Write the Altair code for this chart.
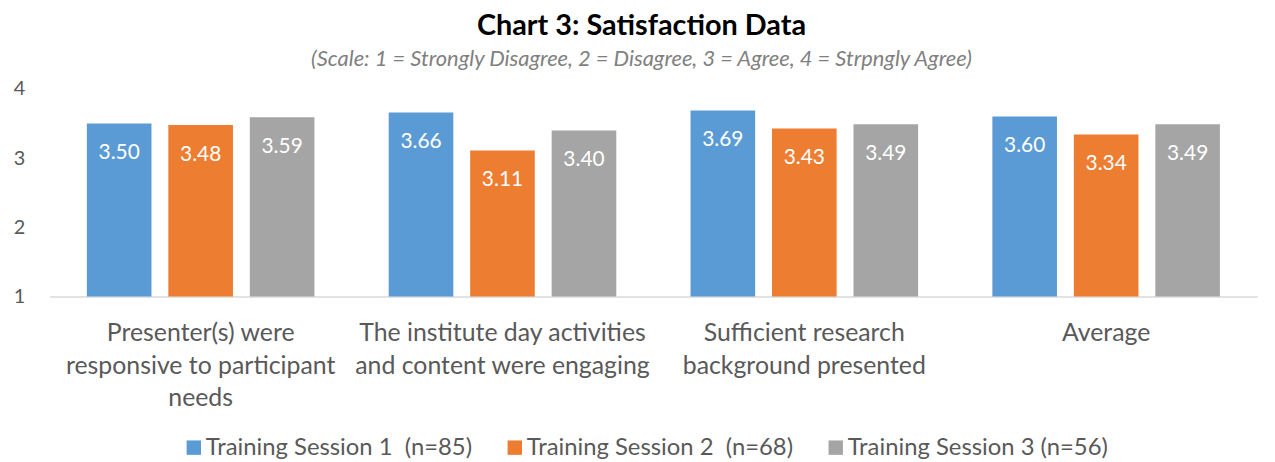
import altair as alt
import pandas as pd

categories = [
    "Presenter(s) were|responsive to participant|needs",
    "The institute day activities|and content were engaging",
    "Sufficient research|background presented",
    "Average",
]
sessions = [
    "Training Session 1\u00a0\u00a0(n=85)",
    "Training Session 2\u00a0\u00a0(n=68)",
    "Training Session 3 (n=56)",
]
session1 = [3.50, 3.66, 3.69, 3.60]
session2 = [3.48, 3.11, 3.43, 3.34]
session3 = [3.59, 3.40, 3.49, 3.49]
colors = ["#5B9BD5", "#ED7D31", "#A5A5A5"]

rows = []
for s, vals in zip(sessions, [session1, session2, session3]):
    for c, v in zip(categories, vals):
        rows.append({"category": c, "session": s, "value": v, "base": 1})
df = pd.DataFrame(rows)

FONT = "Lato"
TEXT = "#595959"

x = alt.X(
    "category:N",
    sort=categories,
    title=None,
    scale=alt.Scale(paddingInner=0.246, paddingOuter=0.123),
    axis=alt.Axis(
        labelExpr="split(datum.label, '|')",
        labelAngle=0,
        labelFontSize=25,
        labelLineHeight=33,
        labelColor=TEXT,
        labelFont=FONT,
        labelPadding=24,
        ticks=False,
        domainColor="#D9D9D9",
        domainWidth=1.5,
        labelLimit=400,
    ),
)
xoff = alt.XOffset(
    "session:N",
    sort=sessions,
    scale=alt.Scale(paddingInner=0.207, paddingOuter=0),
)

bars = alt.Chart(df).mark_bar().encode(
    x=x,
    xOffset=xoff,
    y=alt.Y(
        "value:Q",
        title=None,
        scale=alt.Scale(domain=[1, 4], zero=False, nice=False),
        axis=alt.Axis(
            values=[1, 2, 3, 4],
            format="d",
            grid=False,
            ticks=False,
            domain=False,
            labelFontSize=20,
            labelColor=TEXT,
            labelFont=FONT,
            labelPadding=25,
        ),
    ),
    y2="base:Q",
    color=alt.Color(
        "session:N",
        sort=sessions,
        scale=alt.Scale(domain=sessions, range=colors),
        legend=alt.Legend(
            title=None,
            orient="none",
            legendX=133,
            legendY=349,
            direction="horizontal",
            symbolType="square",
            symbolSize=210,
            symbolStrokeWidth=0,
            labelFontSize=24,
            labelColor=TEXT,
            labelFont=FONT,
            labelOffset=0,
            columnPadding=30,
            labelLimit=400,
        ),
    ),
)

labels = alt.Chart(df).mark_text(
    color="white", fontSize=21, font=FONT, baseline="middle", dy=30
).encode(
    x=alt.X("category:N", sort=categories),
    xOffset=xoff,
    y="value:Q",
    text=alt.Text("value:Q", format=".2f"),
)

chart = (
    alt.layer(bars, labels)
    .properties(
        width=1215,
        height=209,
        autosize="none",
        background="white",
        padding={"left": 42, "top": 80, "right": 10, "bottom": 165},
        title=alt.Title(
            text="Chart 3: Satisfaction Data",
            subtitle="(Scale: 1 = Strongly Disagree, 2 = Disagree, 3 = Agree, 4 = Strpngly Agree)",
            font=FONT,
            fontSize=29,
            fontWeight="bold",
            color="#000000",
            subtitleFont=FONT,
            subtitleFontSize=22,
            subtitleFontStyle="italic",
            subtitleColor="#808080",
            subtitlePadding=8,
            anchor="middle",
            dx=-12,
            offset=9,
        ),
    )
    .configure_view(strokeWidth=0, stroke="transparent")
)

chart.save("out.html", embed_options={"renderer": "svg", "actions": False})
